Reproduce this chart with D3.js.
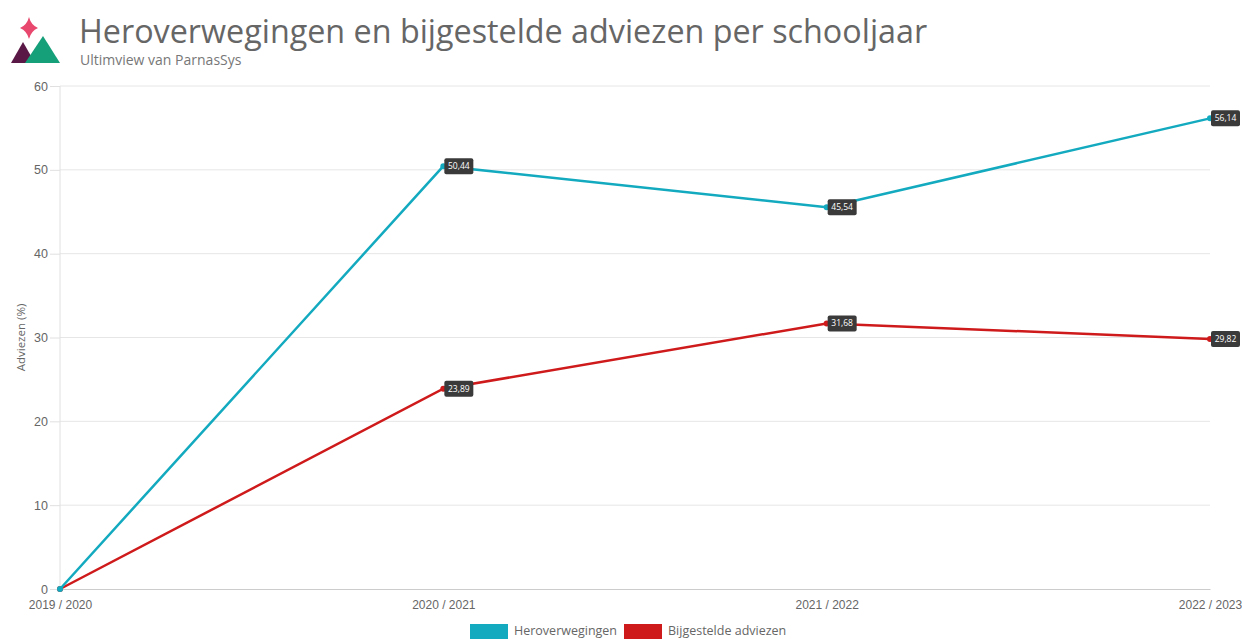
<!DOCTYPE html>
<html>
<head>
<meta charset="utf-8">
<script src="https://cdn.jsdelivr.net/npm/d3@7"></script>
<style>
  body { margin: 0; background: #fff; }
  svg { font-family: "Open Sans", "DejaVu Sans", sans-serif; }
</style>
</head>
<body>
<svg id="mainSvg" width="1242" height="639"></svg>
<script>
// data
var schooljaren = ["2019 / 2020", "2020 / 2021", "2021 / 2022", "2022 / 2023"];
var heroverwegingen = [0, 50.44, 45.54, 56.14];
var bijgesteld = [0, 23.89, 31.68, 29.82];
var yTicks = [0, 10, 20, 30, 40, 50, 60];
var seriesNames = ["Heroverwegingen", "Bijgestelde adviezen"];
var seriesColors = ["#13aabf", "#cf1a1b"];

var svg = d3.select("#mainSvg");

var margin = {top: 86, right: 32, bottom: 50, left: 60},
    width = 1242 - margin.left - margin.right,
    height = 639 - margin.top - margin.bottom;

// logo
var logo = svg.append("g");
logo.append("path")
    .attr("d", "M29,17 Q31,25 38,28 Q31,31 29,39 Q27,31 20,28 Q27,25 29,17Z")
    .attr("fill", "#e8486e");
logo.append("path")
    .attr("d", "M11,63 L23,42 L35,63Z")
    .attr("fill", "#5a1846");
logo.append("path")
    .attr("d", "M25,63 L43,36 L60,63Z")
    .attr("fill", "#16a07a");

svg.append("text")
    .attr("x", 79).attr("y", 43)
    .attr("fill", "#666")
    .style("font-size", "32.3px")
    .text("Heroverwegingen en bijgestelde adviezen per schooljaar");
svg.append("text")
    .attr("x", 80).attr("y", 65)
    .attr("fill", "#777")
    .style("font-size", "14px")
    .text("Ultimview van ParnasSys");

var x = d3.scalePoint().domain(schooljaren).range([0, width]);
var y = d3.scaleLinear().domain([0, 60]).range([height, 0]);

var g = svg.append("g")
    .attr("transform", "translate(" + margin.left + "," + margin.top + ")");

// grid
g.selectAll(".grid")
    .data(yTicks.filter(function(d) { return d > 0; }))
    .enter().append("line")
    .attr("x1", 0).attr("x2", width)
    .attr("y1", function(d) { return y(d); })
    .attr("y2", function(d) { return y(d); })
    .attr("stroke", "#e6e6e6");

g.append("line")
    .attr("x1", 0).attr("x2", 0).attr("y1", 0).attr("y2", height)
    .attr("stroke", "#e0e0e0");

// y axis
var yAxis = g.append("g")
    .call(d3.axisLeft(y).tickValues(yTicks).tickSize(10).tickPadding(2));
yAxis.select(".domain").remove();
yAxis.selectAll("line").attr("stroke", "#e0e0e0");
yAxis.selectAll("text").attr("fill", "#666").style("font-size", "12.5px");

// x axis
var xAxis = g.append("g")
    .attr("transform", "translate(0," + height + ")")
    .call(d3.axisBottom(x).tickSize(0).tickPadding(11));
xAxis.select(".domain").attr("stroke", "#ccc");
xAxis.selectAll("text").attr("fill", "#666").style("font-size", "12px");

svg.append("text")
    .attr("transform", "translate(25," + (margin.top + height / 2) + ") rotate(-90)")
    .attr("text-anchor", "middle")
    .attr("fill", "#666")
    .style("font-size", "11.5px")
    .text("Adviezen (%)");

var allSeries = [heroverwegingen, bijgesteld];
var line = d3.line()
    .x(function(d, i) { return x(schooljaren[i]); })
    .y(function(d) { return y(d); });

// draw red first so cyan lies on top at the origin
[1, 0].forEach(function(s) {
    var vals = allSeries[s];
    g.append("path")
        .datum(vals)
        .attr("fill", "none")
        .attr("stroke", seriesColors[s])
        .attr("stroke-width", 2.5)
        .attr("d", line);
    g.selectAll(".pt" + s)
        .data(vals)
        .enter().append("circle")
        .attr("cx", function(d, i) { return x(schooljaren[i]); })
        .attr("cy", function(d) { return y(d); })
        .attr("r", 3)
        .attr("fill", seriesColors[s]);
});

// value labels
allSeries.forEach(function(vals, s) {
    vals.forEach(function(v, i) {
        if (i === 0) return;
        var lx = x(schooljaren[i]) + 1, ly = y(v);
        var lbl = g.append("g").attr("transform", "translate(" + lx + "," + ly + ")");
        lbl.append("rect")
            .attr("x", 0).attr("y", -8)
            .attr("width", 29).attr("height", 16)
            .attr("rx", 2)
            .attr("fill", "#3a3a3a");
        lbl.append("text")
            .attr("x", 14.5).attr("y", 3)
            .attr("text-anchor", "middle")
            .attr("fill", "#fff")
            .style("font-size", "8.5px")
            .text(d3.format(".2f")(v).replace(".", ","));
    });
});

// legend
var legend = svg.append("g").attr("transform", "translate(470,624)");
var legendX = [0, 154];
seriesNames.forEach(function(name, s) {
    var lg = legend.append("g").attr("transform", "translate(" + legendX[s] + ",0)");
    lg.append("rect").attr("width", 38).attr("height", 15).attr("fill", seriesColors[s]);
    lg.append("text").attr("x", 44).attr("y", 11)
        .attr("fill", "#666").style("font-size", "12.5px").text(name);
});
</script>
</body>
</html>
